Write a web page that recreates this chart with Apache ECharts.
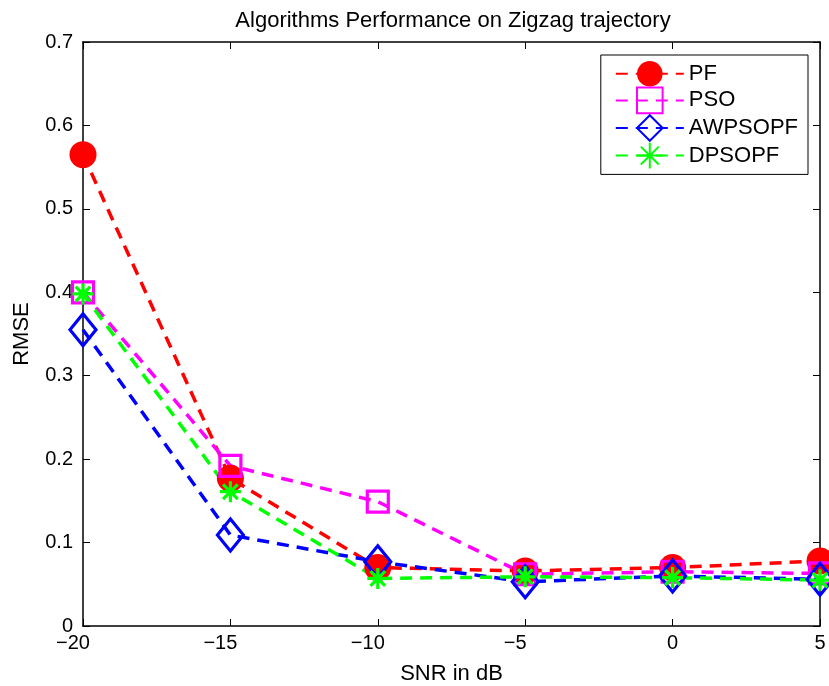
<!DOCTYPE html>
<html>
<head>
<meta charset="utf-8">
<script src="https://cdn.jsdelivr.net/npm/echarts@6/dist/echarts.min.js"></script>
<style>
  html, body { margin: 0; padding: 0; background: #fff; }
  #chart { width: 829px; height: 686px; }
</style>
</head>
<body>
<div id="chart"></div>
<script>
// SNR values on the x axis (dB)
const snr = [-20, -15, -10, -5, 0, 5];

// RMSE per algorithm
const pf      = [0.565, 0.177, 0.070, 0.066, 0.070, 0.078];
const pso     = [0.400, 0.192, 0.149, 0.062, 0.065, 0.063];
const awpsopf = [0.355, 0.109, 0.077, 0.053, 0.060, 0.056];
const dpsopf  = [0.398, 0.161, 0.057, 0.059, 0.058, 0.055];

const FONT = 'Liberation Sans, Arial, sans-serif';
const ASTERISK = 'path://M10,0L10,20M0,10L20,10M3,3L17,17M3,17L17,3';

const pairs = ys => snr.map((x, i) => [x, ys[i]]);

// one dashed line with matlab-ish markers
const makeSeries = (name, ys, color, symbol, size, filled) => ({
  name,
  type: 'line',
  data: pairs(ys),
  symbol,
  symbolSize: size,
  showAllSymbol: true,
  clip: false,
  lineStyle: { color, width: 3.5, type: [12, 8] },
  itemStyle: filled
    ? { color, borderWidth: 0 }
    : { color: 'rgba(0,0,0,0)', borderColor: color, borderWidth: 3.2 },
  emphasis: { disabled: true },
  z: 3,
});

const tickInside = { show: true, inside: true, length: 7, lineStyle: { color: '#000', width: 1 } };
const axisLine = { show: true, onZero: false, lineStyle: { color: '#000', width: 1.5 } };

// matlab draws a real minus and sits negative labels a bit left of the tick
const xLabel = v => (v < 0 ? '{n|\u2212' + Math.abs(v) + '}' : String(v));

const option = {
  backgroundColor: '#fff',
  animation: false,
  title: {
    text: 'Algorithms Performance on Zigzag trajectory',
    left: 448,
    top: 5,
    textAlign: 'center',
    textStyle: { fontFamily: FONT, fontSize: 22, fontWeight: 'normal', color: '#000' },
  },
  grid: { left: 83, right: 9, top: 42, bottom: 60, containLabel: false, outerBoundsMode: 'none' },
  legend: {
    orient: 'vertical',
    right: 21,
    top: 55,
    padding: [6, 10, 5, 14],
    itemWidth: 68,
    itemHeight: 32,
    itemGap: 0,
    backgroundColor: '#fff',
    borderColor: '#000',
    borderWidth: 1,
    textStyle: { fontFamily: FONT, fontSize: 22, color: '#000' },
    data: ['PF', 'PSO', 'AWPSOPF', 'DPSOPF'],
  },
  xAxis: [
    {
      type: 'value', min: -20, max: 5, interval: 5,
      name: 'SNR in dB', nameLocation: 'middle', nameGap: 37,
      nameTextStyle: { fontFamily: FONT, fontSize: 22, color: '#000' },
      axisLine, axisTick: tickInside,
      axisLabel: {
        fontFamily: FONT, fontSize: 20, color: '#000', margin: 7,
        formatter: xLabel,
        rich: { n: { fontFamily: FONT, fontSize: 20, color: '#000', padding: [0, 20, 0, 0] } },
      },
      splitLine: { show: false },
    },
    {
      type: 'value', min: -20, max: 5, interval: 5, position: 'top',
      axisLine, axisTick: tickInside, axisLabel: { show: false }, splitLine: { show: false },
    },
  ],
  yAxis: [
    {
      type: 'value', min: 0, max: 0.7, interval: 0.1,
      name: 'RMSE', nameLocation: 'middle', nameGap: 50,
      nameTextStyle: { fontFamily: FONT, fontSize: 22, color: '#000' },
      axisLine, axisTick: tickInside,
      axisLabel: { fontFamily: FONT, fontSize: 20, color: '#000', margin: 10 },
      splitLine: { show: false },
    },
    {
      type: 'value', min: 0, max: 0.7, interval: 0.1, position: 'right',
      axisLine, axisTick: tickInside, axisLabel: { show: false }, splitLine: { show: false },
    },
  ],
  series: [
    makeSeries('PF', pf, '#ff0000', 'circle', 27, true),
    makeSeries('PSO', pso, '#ff00ff', 'rect', 21, false),
    makeSeries('AWPSOPF', awpsopf, '#0000ff', 'diamond', [26, 32], false),
    makeSeries('DPSOPF', dpsopf, '#00ff00', ASTERISK, 21, false),
  ],
};

const chart = echarts.init(document.getElementById('chart'), null, { renderer: 'canvas' });
chart.setOption(option);
</script>
</body>
</html>
